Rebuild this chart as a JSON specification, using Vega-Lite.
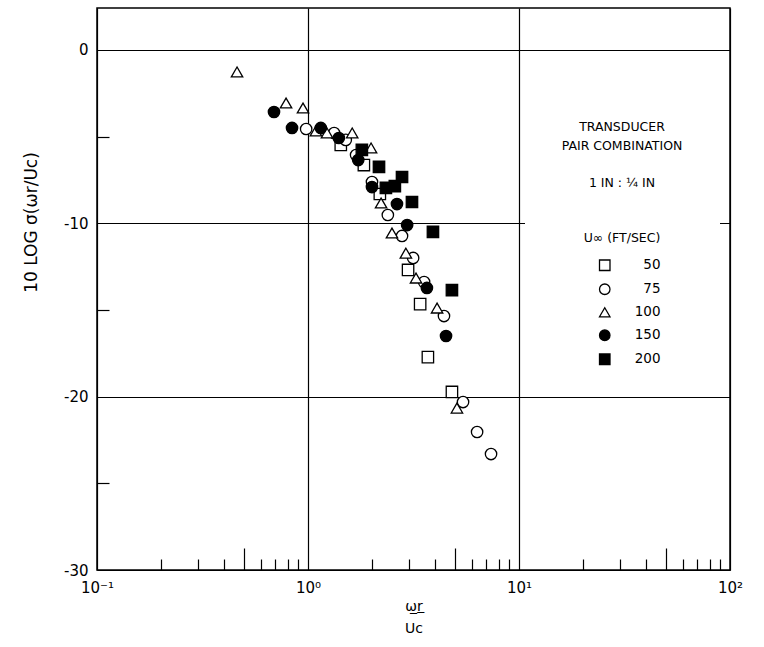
{
  "$schema": "https://vega.github.io/schema/vega-lite/v6.json",
  "width": 633,
  "height": 562,
  "autosize": {"type": "none"},
  "padding": {"left": 97, "top": 8, "right": 34, "bottom": 77},
  "background": "white",
  "config": {
    "view": {"stroke": "black", "strokeWidth": 1.5},
    "axis": {"labelFont": "DejaVu Sans", "titleFont": "DejaVu Sans", "labelColor": "black", "titleColor": "black", "titleFontWeight": "normal"}
  },
  "data": {
    "values": [
      {"x": 1.43, "y": -5.48, "U": 50},
      {"x": 1.84, "y": -6.64, "U": 50},
      {"x": 2.19, "y": -8.31, "U": 50},
      {"x": 2.98, "y": -12.69, "U": 50},
      {"x": 3.40, "y": -14.66, "U": 50},
      {"x": 3.70, "y": -17.72, "U": 50},
      {"x": 4.81, "y": -19.73, "U": 50},
      {"x": 0.98, "y": -4.56, "U": 75},
      {"x": 1.33, "y": -4.79, "U": 75},
      {"x": 1.51, "y": -5.19, "U": 75},
      {"x": 1.69, "y": -6.06, "U": 75},
      {"x": 2.01, "y": -7.62, "U": 75},
      {"x": 2.39, "y": -9.52, "U": 75},
      {"x": 2.79, "y": -10.73, "U": 75},
      {"x": 3.15, "y": -12.0, "U": 75},
      {"x": 3.55, "y": -13.39, "U": 75},
      {"x": 4.41, "y": -15.35, "U": 75},
      {"x": 5.43, "y": -20.31, "U": 75},
      {"x": 6.33, "y": -22.04, "U": 75},
      {"x": 7.37, "y": -23.31, "U": 75},
      {"x": 0.461, "y": -1.27, "U": 100},
      {"x": 0.787, "y": -3.06, "U": 100},
      {"x": 0.947, "y": -3.35, "U": 100},
      {"x": 1.09, "y": -4.67, "U": 100},
      {"x": 1.23, "y": -4.79, "U": 100},
      {"x": 1.62, "y": -4.79, "U": 100},
      {"x": 1.99, "y": -5.65, "U": 100},
      {"x": 2.22, "y": -8.83, "U": 100},
      {"x": 2.50, "y": -10.56, "U": 100},
      {"x": 2.91, "y": -11.72, "U": 100},
      {"x": 3.25, "y": -13.16, "U": 100},
      {"x": 4.09, "y": -14.89, "U": 100},
      {"x": 5.08, "y": -20.66, "U": 100},
      {"x": 0.69, "y": -3.58, "U": 150},
      {"x": 0.84, "y": -4.50, "U": 150},
      {"x": 1.15, "y": -4.50, "U": 150},
      {"x": 1.40, "y": -5.08, "U": 150},
      {"x": 1.73, "y": -6.35, "U": 150},
      {"x": 2.01, "y": -7.91, "U": 150},
      {"x": 2.64, "y": -8.89, "U": 150},
      {"x": 2.95, "y": -10.10, "U": 150},
      {"x": 3.66, "y": -13.73, "U": 150},
      {"x": 4.51, "y": -16.50, "U": 150},
      {"x": 1.80, "y": -5.77, "U": 200},
      {"x": 2.17, "y": -6.75, "U": 200},
      {"x": 2.34, "y": -7.96, "U": 200},
      {"x": 2.58, "y": -7.85, "U": 200},
      {"x": 2.79, "y": -7.33, "U": 200},
      {"x": 3.11, "y": -8.77, "U": 200},
      {"x": 3.91, "y": -10.50, "U": 200},
      {"x": 4.81, "y": -13.85, "U": 200}
    ]
  },
  "layer": [
    {
      "mark": {"type": "point", "opacity": 0},
      "encoding": {
        "x": {
          "field": "x", "type": "quantitative",
          "scale": {"type": "log", "domain": [0.1, 100], "nice": false},
          "axis": {
            "orient": "bottom",
            "values": [0.2, 0.3, 0.4, 0.5, 0.6, 0.7, 0.8, 0.9, 2, 3, 4, 5, 6, 7, 8, 9, 20, 30, 40, 50, 60, 70, 80, 90],
            "labels": false, "grid": false, "domain": false, "ticks": true,
            "tickSize": {"condition": {"test": "datum.value == 0.5 || datum.value == 5 || datum.value == 50", "value": -22}, "value": -11},
            "tickColor": "black", "tickWidth": 1.2, "title": null
          }
        },
        "y": {
          "field": "y", "type": "quantitative",
          "scale": {"domain": [-30, 2.42], "nice": false, "zero": false},
          "axis": {
            "orient": "left",
            "values": [-25, -15, -5],
            "labels": false, "grid": false, "domain": false, "ticks": true,
            "tickSize": -12, "tickColor": "black", "tickWidth": 1.2, "title": null
          }
        }
      }
    },
    {
      "mark": {"type": "point", "filled": true, "stroke": "black", "strokeWidth": 1.3, "size": 130, "opacity": 1},
      "encoding": {
        "x": {
          "field": "x", "type": "quantitative",
          "scale": {"type": "log", "domain": [0.1, 100], "nice": false},
          "axis": {
            "orient": "bottom",
            "values": [0.1, 1, 10, 100],
            "grid": true, "gridColor": "black", "gridWidth": 1.2, "gridOpacity": 1,
            "ticks": false, "domain": false,
            "labelExpr": "datum.value == 0.1 ? '10⁻¹' : datum.value == 1 ? '10⁰' : datum.value == 10 ? '10¹' : '10²'",
            "labelFontSize": 15, "labelPadding": 10, "labelFlush": false,
            "title": ["ω̲r̲", "Uc"], "titleFontSize": 14, "titleLineHeight": 22, "titlePadding": 4
          }
        },
        "y": {
          "field": "y", "type": "quantitative",
          "scale": {"domain": [-30, 2.42], "nice": false, "zero": false},
          "axis": {
            "orient": "left",
            "values": [-30, -20, -10, 0],
            "grid": true, "gridColor": "black", "gridWidth": 1.2, "gridOpacity": 1,
            "ticks": false, "domain": false,
            "labelExpr": "datum.value == 0 ? '0' : '-' + abs(datum.value)",
            "labelFontSize": 15, "labelPadding": 9, "labelFlush": false,
            "title": "10 LOG σ(ωr/Uc)", "titleFontSize": 17, "titleAngle": -90,
            "titleX": -66, "titleY": 214, "titleAlign": "center", "titleBaseline": "middle"
          }
        },
        "shape": {
          "field": "U", "type": "ordinal",
          "scale": {"domain": [50, 75, 100, 150, 200], "range": ["square", "circle", "triangle-up", "circle", "square"]},
          "legend": {
            "orient": "none", "legendX": 428, "legendY": 105,
            "title": ["TRANSDUCER", "PAIR COMBINATION", "\u200b\u00a0\u00a0\u00a0\u00a0\u00a0\u00a0\u00a0\u00a0\u00a0\u00a0\u00a0\u00a0\u00a0\u00a0\u00a0\u00a0\u00a0\u00a0\u00a0\u00a0\u00a0\u00a0\u00a0\u00a0\u00a0\u00a0\u00a0\u00a0\u00a0\u00a0\u00a0\u00a0\u00a0\u00a0\u00a0\u00a0\u00a0\u00a0\u00a0\u00a0\u00a0\u00a0\u00a0\u00a0\u00a0\u200b", "1 IN : ¼ IN", "\u200b\u00a0\u200b", "\u200b\u00a0\u200b", "U∞ (FT/SEC)"],
            "titleFont": "DejaVu Sans", "titleFontSize": 12.5, "titleFontWeight": "normal", "titleColor": "black",
            "titleLineHeight": 18.5, "titleAnchor": "middle", "titleAlign": "center", "titlePadding": 14, "titleLimit": 400,
            "fillColor": "white", "padding": 8, "rowPadding": 7,
            "symbolSize": 110, "symbolStrokeColor": "black", "symbolStrokeWidth": 1.3, "symbolOffset": 14,
            "labelFont": "DejaVu Sans", "labelFontSize": 13.5, "labelColor": "black", "labelAlign": "right", "labelOffset": 49
          }
        },
        "fill": {
          "field": "U", "type": "ordinal",
          "scale": {"domain": [50, 75, 100, 150, 200], "range": ["white", "white", "white", "black", "black"]}
        },
        "stroke": {
          "field": "U", "type": "ordinal",
          "scale": {"domain": [50, 75, 100, 150, 200], "range": ["black", "black", "black", "black", "black"]}
        }
      }
    }
  ],
  "resolve": {"axis": {"x": "independent", "y": "independent"}}
}
